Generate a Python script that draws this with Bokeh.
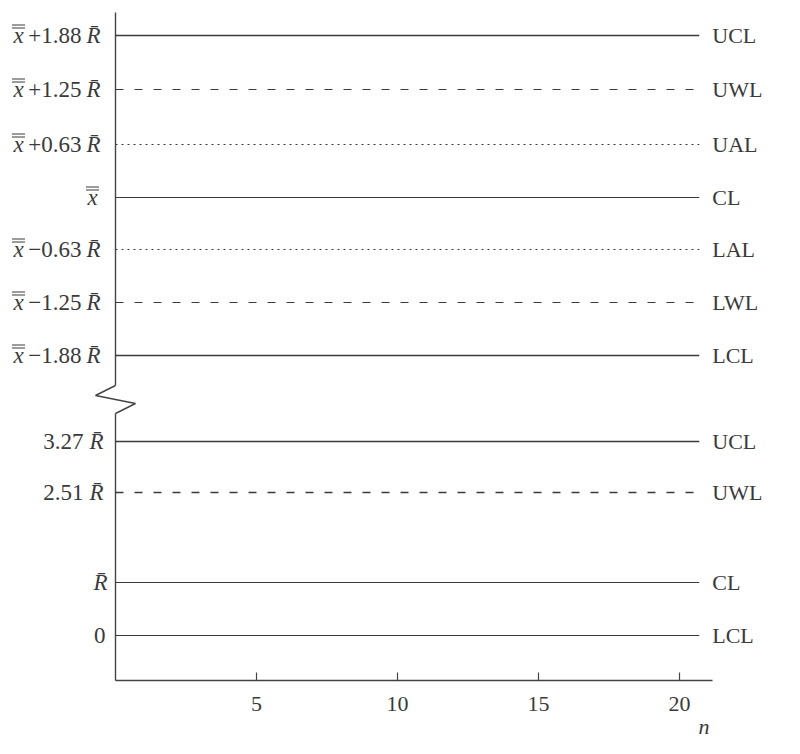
from bokeh.plotting import figure
from bokeh.models import Range1d, ColumnDataSource
from bokeh.core.properties import value
from bokeh.embed import file_html
from bokeh.resources import INLINE

# ---- data (schematic chart levels) ----
xbar_names = ["UCL", "UWL", "UAL", "CL", "LAL", "LWL", "LCL"]
xbar_numbers = ["+1.88", "+1.25", "+0.63", "", "\u22120.63", "\u22121.25", "\u22121.88"]
xbar_has_R = [True, True, True, False, True, True, True]
xbar_pos = [64.5, 59.1, 53.6, 48.3, 43.1, 37.8, 32.5]
xbar_dash = ["solid", "8 11", "2 4", "solid", "2 4", "8 11", "solid"]
xbar_width = [1.4, 1.2, 1.2, 1.0, 1.2, 1.2, 1.4]

r_names = ["UCL", "UWL", "CL", "LCL"]
r_numbers = ["3.27", "2.51", "", "0"]
r_has_R = [True, True, True, False]
r_pos = [23.9, 18.8, 9.8, 4.5]
r_dash = ["solid", "8 11", "solid", "solid"]
r_width = [1.6, 1.4, 1.0, 1.2]

n_ticks = [5, 10, 15, 20]
n_tick_labels = ["5", "10", "15", "20"]
line_end = 20.7
axis_end = 21.17
axis_top = 66.8
break_x = [0.0, -0.709, 0.709, 0.0]
break_y = [29.5, 28.5, 27.7, 26.7]

# pixel -> data conversion for small decorations
PXX = 1 / 28.2
PXY = 0.1

FONT = value("Liberation Serif")
INK = "#3a3a3a"
AXC = "#444444"

p = figure(width=784, height=738, x_range=Range1d(-4.078, 23.723),
           y_range=Range1d(-5.8, 68.0), output_backend="svg",
           toolbar_location=None, min_border=0)
p.axis.visible = False
p.grid.visible = False
p.outline_line_color = None
p.background_fill_color = "white"
p.border_fill_color = "white"

# axes
p.line([0, 0], [axis_top, break_y[0]], line_color=AXC, line_width=1.4)
p.line(break_x, break_y, line_color=AXC, line_width=1.4)
p.line([0, 0], [break_y[-1], 0], line_color=AXC, line_width=1.4)
p.line([0, axis_end], [0, 0], line_color=AXC, line_width=1.4)
p.segment(x0=n_ticks, y0=[0] * 4, x1=n_ticks, y1=[0.8] * 4, line_color=AXC, line_width=1.2)
p.text(x=n_ticks, y=[-2.3] * 4, text=n_tick_labels, text_align="center",
       text_baseline="middle", text_font=FONT, text_font_size="22px", text_color=INK)
p.text(x=[axis_end - 0.3], y=[-4.6], text=["n"], text_align="center",
       text_baseline="middle", text_font=FONT, text_font_size="22px",
       text_font_style="italic", text_color=INK)


def rbar(xs, ys, offs):
    src = ColumnDataSource(dict(x=xs, y=ys, xo=offs, t=["R\u0304"] * len(xs)))
    p.text(x="x", y="y", text="t", x_offset="xo", source=src,
           text_align="right", text_baseline="middle", text_font=FONT,
           text_font_size="23px", text_font_style="italic", text_color=INK)


def right_labels(names, pos):
    p.text(x=[line_end] * len(pos), y=pos, text=names, x_offset=13,
           text_align="left", text_baseline="middle", text_font=FONT,
           text_font_size="22px", text_color=INK)


def lines(pos, dash, width):
    for y, d, w in zip(pos, dash, width):
        p.line([0, line_end], [y, y], line_color=INK, line_width=w, line_dash=d)


# ---- x-bar chart ----
lines(xbar_pos, xbar_dash, xbar_width)
right_labels(xbar_names, xbar_pos)
ry = [y for y, h in zip(xbar_pos, xbar_has_R) if h]
rbar([0] * len(ry), ry, [-15] * len(ry))
p.text(x=[0] * len(ry), y=ry, text=[t for t, h in zip(xbar_numbers, xbar_has_R) if h],
       x_offset=-34, text_align="right", text_baseline="middle", text_font=FONT,
       text_font_size="23px", text_color=INK)
# the double-barred x (grand mean)
xc = [(-97 if h else -23) * PXX for h in xbar_has_R]
p.text(x=xc, y=xbar_pos, text=["x"] * len(xbar_pos), text_align="center",
       text_baseline="middle", text_font=FONT, text_font_size="23px",
       text_font_style="italic", text_color=INK)
for dy in (10.5, 7.5):
    p.segment(x0=[c - 6.5 * PXX for c in xc], x1=[c + 6.5 * PXX for c in xc],
              y0=[y + dy * PXY for y in xbar_pos], y1=[y + dy * PXY for y in xbar_pos],
              line_color=INK, line_width=1.2)

# ---- R chart ----
lines(r_pos, r_dash, r_width)
right_labels(r_names, r_pos)
rxs = [0 for h in r_has_R if h]
rys = [y for y, h in zip(r_pos, r_has_R) if h]
roff = [(-12 if t else -8) for t, h in zip(r_numbers, r_has_R) if h]
rbar(rxs, rys, roff)
p.text(x=[0] * len(r_pos), y=r_pos, text=r_numbers,
       x_offset=[-32 if h else -10 for h in r_has_R], text_align="right",
       text_baseline="middle", text_font=FONT, text_font_size="23px", text_color=INK)

open("out.html", "w").write(file_html(p, INLINE))
